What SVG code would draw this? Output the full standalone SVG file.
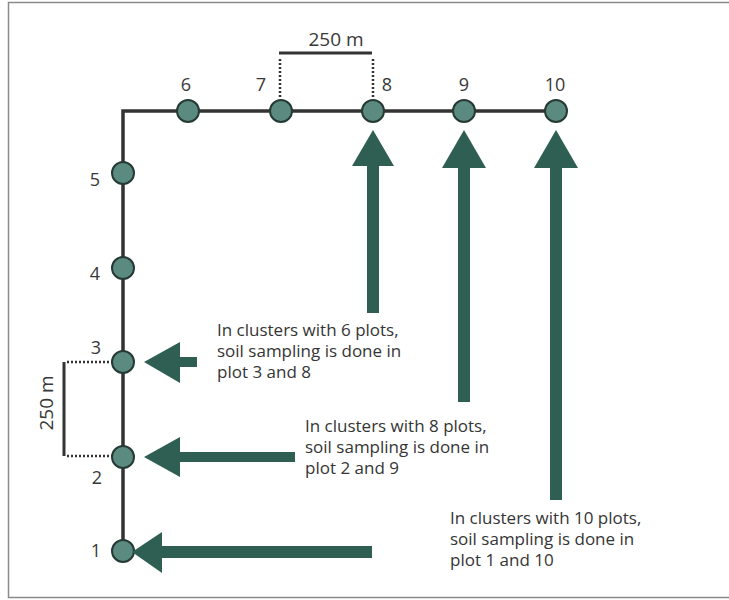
<svg xmlns="http://www.w3.org/2000/svg" width="729" height="600" viewBox="0 0 729 600">
<style>
.lbl{font-family:"Open Sans","Liberation Sans",sans-serif;font-size:18px;fill:#383838}
.dim{font-family:"Open Sans","Liberation Sans",sans-serif;font-size:19px;fill:#383838}
.txt{font-family:"Open Sans","Liberation Sans",sans-serif;font-size:17px;fill:#353535}
.node{fill:#5b8a81;stroke:#263a35;stroke-width:2}
.arrow{fill:#2f5f52}
.dot{stroke:#333;stroke-width:2.5;stroke-dasharray:2 2;fill:none}
</style>
<rect x="0" y="0" width="729" height="600" fill="#ffffff"/>
<rect x="8.5" y="2.5" width="730" height="595" fill="none" stroke="#8a8a8a" stroke-width="1.5"/>
<g id="connectors">
<polyline points="123,553 123,111 557,111" fill="none" stroke="#333" stroke-width="3.5"/>
<line x1="279" y1="53" x2="372" y2="53" stroke="#333" stroke-width="3"/>
<line class="dot" x1="280" y1="59" x2="280" y2="98"/>
<line class="dot" x1="373" y1="59" x2="373" y2="98"/>
<line x1="64" y1="362" x2="64" y2="456" stroke="#333" stroke-width="3"/>
<line class="dot" x1="67" y1="362" x2="112" y2="362"/>
<line class="dot" x1="67" y1="456" x2="112" y2="456"/>
</g>
<g id="dims">
<text class="dim" x="336" y="46" text-anchor="middle">250 m</text>
<text class="dim" transform="translate(53,403) rotate(-90)" text-anchor="middle">250 m</text>
</g>
<g id="n1"><circle class="node" cx="123" cy="551" r="11"/><text class="lbl" x="96" y="557" text-anchor="middle">1</text></g>
<g id="n2"><circle class="node" cx="123" cy="457" r="11"/><text class="lbl" x="97" y="484" text-anchor="middle">2</text></g>
<g id="n3"><circle class="node" cx="123" cy="362" r="11"/><text class="lbl" x="96" y="354" text-anchor="middle">3</text></g>
<g id="n4"><circle class="node" cx="123" cy="268" r="11"/><text class="lbl" x="95" y="280" text-anchor="middle">4</text></g>
<g id="n5"><circle class="node" cx="123" cy="173" r="11"/><text class="lbl" x="95" y="186" text-anchor="middle">5</text></g>
<g id="n6"><circle class="node" cx="188" cy="111" r="11"/><text class="lbl" x="186" y="91" text-anchor="middle">6</text></g>
<g id="n7"><circle class="node" cx="281" cy="111" r="11"/><text class="lbl" x="261" y="91" text-anchor="middle">7</text></g>
<g id="n8"><circle class="node" cx="373" cy="111" r="11"/><text class="lbl" x="387" y="91" text-anchor="middle">8</text></g>
<g id="n9"><circle class="node" cx="464" cy="111" r="11"/><text class="lbl" x="464" y="91" text-anchor="middle">9</text></g>
<g id="n10"><circle class="node" cx="556" cy="111" r="11"/><text class="lbl" x="555" y="91" text-anchor="middle">10</text></g>
<g id="arrows">
<polygon class="arrow" points="373,130 394,166 379,166 379,313 367,313 367,166 352,166"/>
<polygon class="arrow" points="464,130 486,168 470,168 470,402 458,402 458,168 442,168"/>
<polygon class="arrow" points="556,130 578,168 562,168 562,500 550,500 550,168 534,168"/>
<polygon class="arrow" points="144,362 180,342 180,357 197,357 197,367 180,367 180,383"/>
<polygon class="arrow" points="144,457 180,437 180,452 295,452 295,462 180,462 180,477"/>
<polygon class="arrow" points="132,552 162,532 162,546 372,546 372,558 162,558 162,573"/>
</g>
<g id="note1">
<text class="txt" x="217" y="336">In clusters with 6 plots,</text>
<text class="txt" x="217" y="357">soil sampling is done in</text>
<text class="txt" x="217" y="378">plot 3 and 8</text>
</g>
<g id="note2">
<text class="txt" x="305" y="432">In clusters with 8 plots,</text>
<text class="txt" x="305" y="453">soil sampling is done in</text>
<text class="txt" x="305" y="474">plot 2 and 9</text>
</g>
<g id="note3">
<text class="txt" x="450" y="524">In clusters with 10 plots,</text>
<text class="txt" x="450" y="545">soil sampling is done in</text>
<text class="txt" x="450" y="566">plot 1 and 10</text>
</g>
</svg>
